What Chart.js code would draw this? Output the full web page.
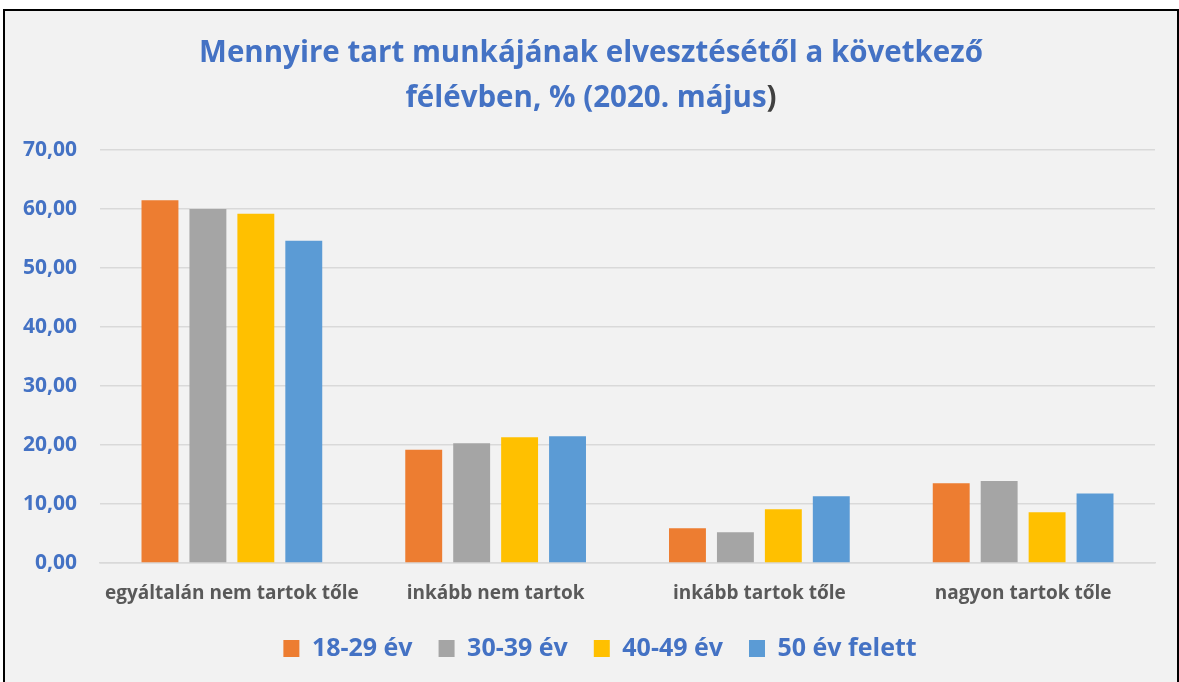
<!DOCTYPE html>
<html>
<head>
<meta charset="utf-8">
<script src="https://cdn.jsdelivr.net/npm/chart.js@4.4.1/dist/chart.umd.min.js"></script>
<style>
  html, body { margin: 0; padding: 0; background: #fff; }
  #frame {
    position: absolute; left: 3px; top: 9px; width: 1172px; height: 680px;
    border: 2px solid #000; background: #f2f2f2;
  }
  #wrap { position: absolute; left: 0; top: 0; width: 1172px; height: 671px; }
</style>
</head>
<body>
<div id="frame"><div id="wrap"><canvas id="chart"></canvas></div></div>
<script>
// Data
const categories = ['egyáltalán nem tartok tőle', 'inkább nem tartok', 'inkább tartok tőle', 'nagyon tartok tőle'];
const seriesNames = ['18-29 év', '30-39 év', '40-49 év', '50 év felett'];
const age18_29 = [61.5, 19.2, 5.9, 13.5];
const age30_39 = [60.0, 20.3, 5.2, 13.9];
const age40_49 = [59.2, 21.3, 9.1, 8.6];
const age50plus = [54.6, 21.5, 11.3, 11.8];
const colors = ['#ed7d31', '#a5a5a5', '#ffc000', '#5b9bd5'];
const yTicks = [0, 10, 20, 30, 40, 50, 60, 70];
const titleLine1 = 'Mennyire tart munkájának elvesztésétől a következő';
const titleLine2 = 'félévben, % (2020. május';

const blue = '#4472c4';
const FONT = '"Open Sans"';

// title drawn by hand so the closing bracket can be dark like in the original
const titlePlugin = {
  id: 'customTitle',
  afterDraw: function(chart) {
    const c = chart.ctx;
    const cx = chart.width / 2;
    c.save();
    c.font = 'bold 29.5px ' + FONT;
    c.textBaseline = 'middle';
    c.textAlign = 'center';
    c.fillStyle = blue;
    c.fillText(titleLine1, cx, 43);
    const w2 = c.measureText(titleLine2).width;
    const wp = c.measureText(')').width;
    const x0 = cx - (w2 + wp) / 2;
    c.textAlign = 'left';
    c.fillText(titleLine2, x0, 88);
    c.fillStyle = '#404040';
    c.fillText(')', x0 + w2, 88);
    c.restore();
  }
};

// legend sits a bit right of centre in the original
const legendShift = {
  id: 'legendShift',
  afterLayout: function(chart) {
    if (chart.legend) {
      chart.legend.left += 20;
      chart.legend.right += 20;
    }
  }
};

document.addEventListener('DOMContentLoaded', function() {
  const ctx = document.getElementById('chart').getContext('2d');
  const allSeries = [age18_29, age30_39, age40_49, age50plus];

  new Chart(ctx, {
    type: 'bar',
    data: {
      labels: categories,
      datasets: allSeries.map(function(vals, i) {
        return {
          label: seriesNames[i],
          data: vals,
          backgroundColor: colors[i],
          borderWidth: 0,
          categoryPercentage: 0.727,
          barPercentage: 0.77
        };
      })
    },
    options: {
      responsive: true,
      maintainAspectRatio: false,
      animation: false,
      layout: { padding: { left: 0, right: 22, top: 139, bottom: 11 } },
      plugins: {
        legend: {
          position: 'bottom',
          labels: {
            color: blue,
            font: { family: FONT, size: 25, weight: 'bold' },
            boxWidth: 16,
            boxHeight: 17,
            padding: 26
          }
        },
        tooltip: { enabled: false }
      },
      scales: {
        x: {
          grid: { display: false },
          border: { color: '#d9d9d9', width: 1.5 },
          afterFit: function(axis) { axis.height = 47; },
          ticks: {
            color: '#595959',
            font: { family: FONT, size: 19, weight: 'bold' },
            padding: 11
          }
        },
        y: {
          min: 0,
          max: 70,
          afterBuildTicks: function(axis) {
            axis.ticks = yTicks.map(function(v) { return { value: v }; });
          },
          afterFit: function(axis) { axis.width = 95; },
          grid: { color: '#d9d9d9', lineWidth: 1.5, drawTicks: false },
          border: { display: false },
          ticks: {
            color: blue,
            font: { family: FONT, size: 21, weight: 'bold' },
            padding: 23,
            callback: function(v) { return v.toFixed(2).replace('.', ','); }
          }
        }
      }
    },
    plugins: [titlePlugin, legendShift]
  });
});
</script>
</body>
</html>
